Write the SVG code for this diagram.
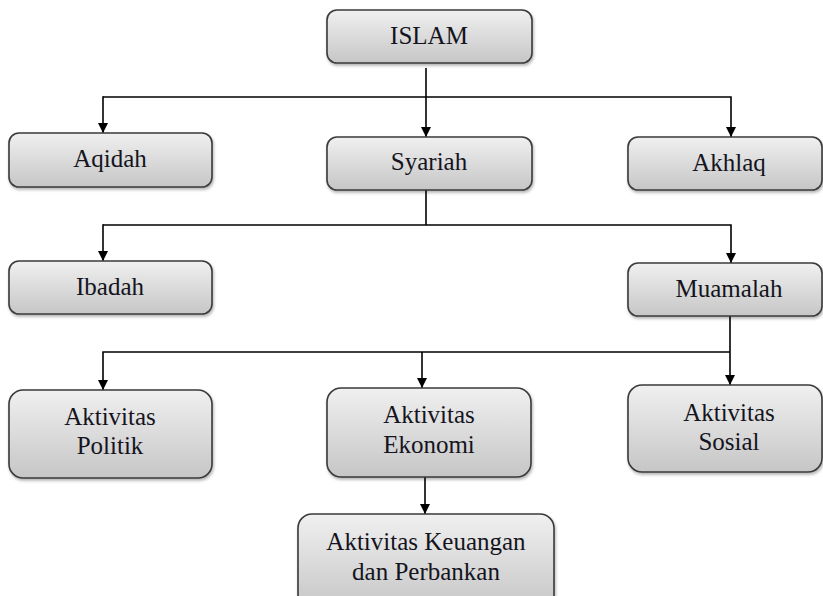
<svg xmlns="http://www.w3.org/2000/svg" width="823" height="596" viewBox="0 0 823 596">
<style>
.box{fill:url(#g);stroke:#3a3a3a;stroke-width:1.6;filter:url(#sh)}
.t{font-family:'Liberation Serif','Times New Roman',serif;font-size:25px;fill:#141420;text-anchor:middle}
.c{fill:none;stroke:#000;stroke-width:1.6}
</style>
<defs>
<linearGradient id="g" x1="0" y1="0" x2="0" y2="1">
<stop offset="0" stop-color="#f0f0f0"/>
<stop offset="1" stop-color="#c6c6c6"/>
</linearGradient>
<filter id="sh" x="-10%" y="-10%" width="120%" height="130%">
<feDropShadow dx="1" dy="2" stdDeviation="1.5" flood-color="#000" flood-opacity="0.3"/>
</filter>
<marker id="ah" viewBox="0 0 10 10" refX="10" refY="5" markerWidth="10" markerHeight="10" markerUnits="userSpaceOnUse" orient="auto">
<path d="M0,0 L10,5 L0,10 Z" fill="#000"/>
</marker>
</defs>
<g id="connectors">
<line class="c" x1="426" y1="68" x2="426" y2="137" marker-end="url(#ah)"/>
<polyline class="c" points="103,97 731,97 731,137" marker-end="url(#ah)"/>
<line class="c" x1="103" y1="96.2" x2="103" y2="133" marker-end="url(#ah)"/>
<line class="c" x1="426" y1="190" x2="426" y2="225"/>
<polyline class="c" points="103,225 731,225 731,263" marker-end="url(#ah)"/>
<line class="c" x1="103" y1="224.2" x2="103" y2="261" marker-end="url(#ah)"/>
<line class="c" x1="730" y1="316" x2="730" y2="385" marker-end="url(#ah)"/>
<polyline class="c" points="730,352 103,352 103,390" marker-end="url(#ah)"/>
<line class="c" x1="422" y1="352" x2="422" y2="388" marker-end="url(#ah)"/>
<line class="c" x1="425" y1="477" x2="425" y2="514" marker-end="url(#ah)"/>
</g>
<g id="islam"><rect class="box" x="327" y="10" width="205" height="53" rx="10"/><text class="t" x="429" y="44">ISLAM</text></g>
<g id="aqidah"><rect class="box" x="9" y="133" width="203" height="54" rx="10"/><text class="t" x="110" y="167">Aqidah</text></g>
<g id="syariah"><rect class="box" x="327" y="137" width="205" height="53" rx="10"/><text class="t" x="429" y="170">Syariah</text></g>
<g id="akhlaq"><rect class="box" x="628" y="137" width="194" height="53" rx="10"/><text class="t" x="729" y="171">Akhlaq</text></g>
<g id="ibadah"><rect class="box" x="9" y="261" width="203" height="53" rx="10"/><text class="t" x="110" y="295">Ibadah</text></g>
<g id="muamalah"><rect class="box" x="628" y="263" width="194" height="53" rx="10"/><text class="t" x="729" y="297">Muamalah</text></g>
<g id="politik"><rect class="box" x="9" y="390" width="203" height="88" rx="14"/><text class="t" x="110" y="425">Aktivitas</text><text class="t" x="110" y="454">Politik</text></g>
<g id="ekonomi"><rect class="box" x="327" y="388" width="204" height="89" rx="14"/><text class="t" x="429" y="423">Aktivitas</text><text class="t" x="429" y="453">Ekonomi</text></g>
<g id="sosial"><rect class="box" x="628" y="385" width="194" height="87" rx="14"/><text class="t" x="729" y="421">Aktivitas</text><text class="t" x="729" y="450">Sosial</text></g>
<g id="keuangan"><rect class="box" x="298" y="514" width="256" height="95" rx="14"/><text class="t" x="426" y="550">Aktivitas Keuangan</text><text class="t" x="426" y="580">dan Perbankan</text></g>
</svg>
